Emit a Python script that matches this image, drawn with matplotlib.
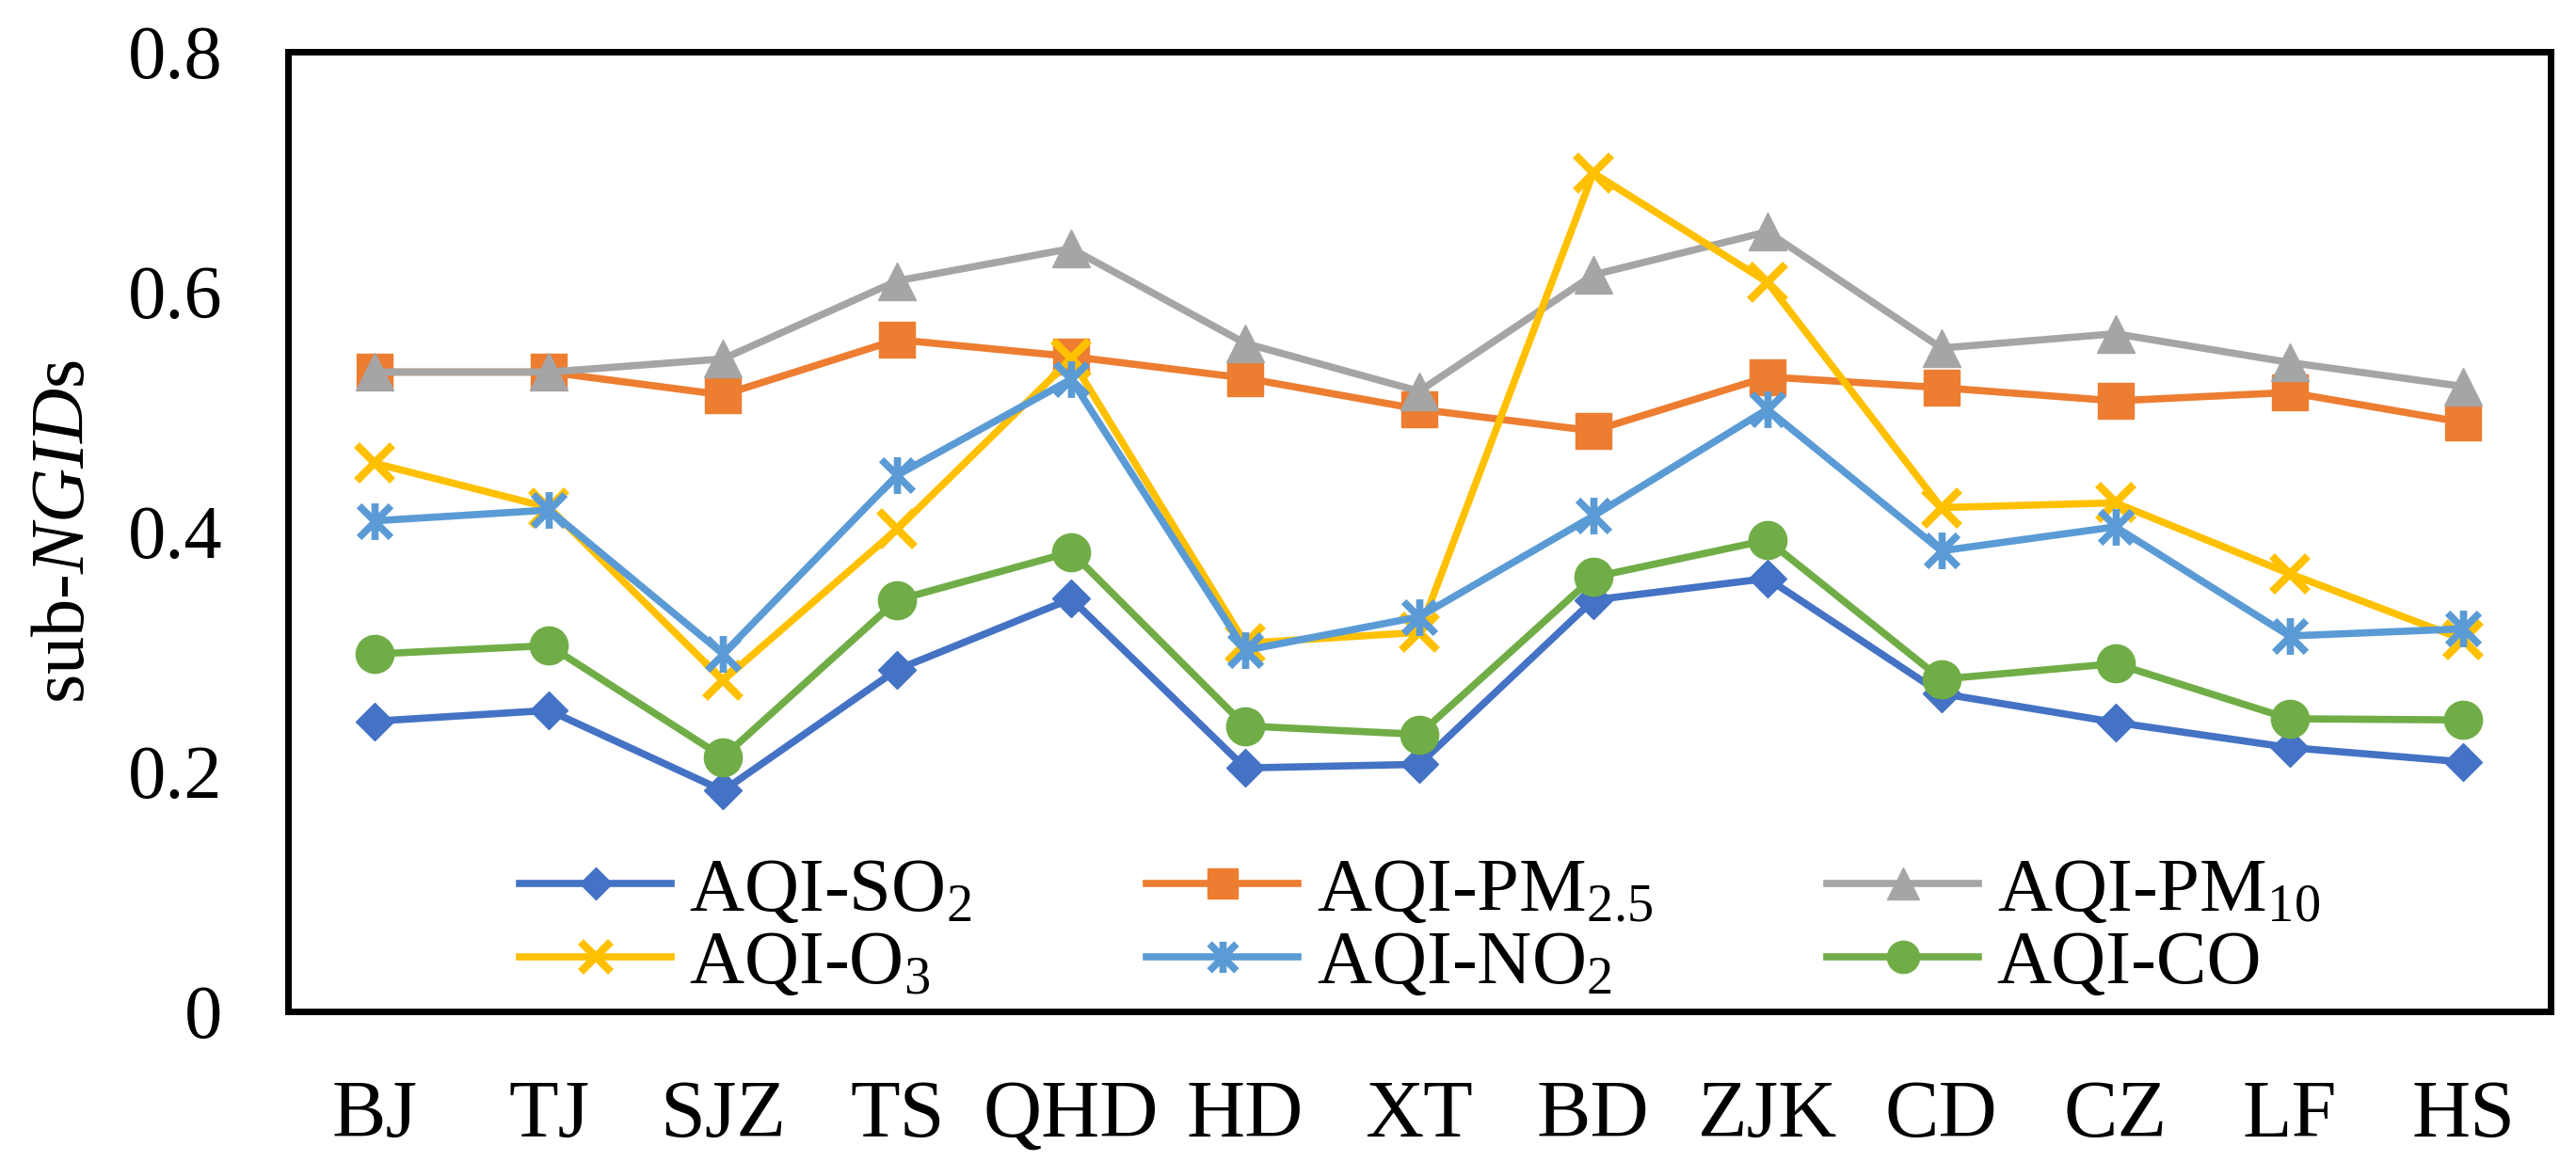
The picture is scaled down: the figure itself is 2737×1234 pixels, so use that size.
import matplotlib
matplotlib.use("Agg")
import matplotlib.pyplot as plt
from matplotlib.path import Path

plt.rcParams['font.family'] = ['Liberation Serif', 'DejaVu Serif']
plt.rcParams['mathtext.fontset'] = 'custom'
plt.rcParams['mathtext.rm'] = 'Liberation Serif'
plt.rcParams['mathtext.it'] = 'Liberation Serif:italic'
plt.rcParams['mathtext.bf'] = 'Liberation Serif:bold'

cities = ["BJ", "TJ", "SJZ", "TS", "QHD", "HD", "XT", "BD", "ZJK", "CD", "CZ", "LF", "HS"]

so2  = [0.242, 0.251, 0.184, 0.285, 0.344, 0.203, 0.206, 0.343, 0.361, 0.265, 0.241, 0.220, 0.208]
pm25 = [0.533, 0.533, 0.514, 0.560, 0.546, 0.528, 0.502, 0.484, 0.529, 0.520, 0.509, 0.516, 0.491]
pm10 = [0.533, 0.533, 0.544, 0.609, 0.636, 0.557, 0.517, 0.614, 0.650, 0.553, 0.565, 0.541, 0.521]
o3   = [0.457, 0.420, 0.276, 0.402, 0.544, 0.307, 0.316, 0.699, 0.608, 0.420, 0.424, 0.365, 0.310]
no2  = [0.409, 0.418, 0.298, 0.447, 0.527, 0.301, 0.329, 0.413, 0.502, 0.384, 0.404, 0.313, 0.319]
co   = [0.298, 0.305, 0.212, 0.343, 0.383, 0.238, 0.231, 0.362, 0.393, 0.277, 0.290, 0.244, 0.243]

labels = ["AQI-SO$_{2}$", "AQI-PM$_{2.5}$", "AQI-PM$_{10}$",
          "AQI-O$_{3}$", "AQI-NO$_{2}$", "AQI-CO"]
colors = ["#4472C4", "#ED7D31", "#A5A5A5", "#FFC000", "#5B9BD5", "#70AD47"]
yticks = [0, 0.2, 0.4, 0.6, 0.8]
ytick_labels = ["0", "0.2", "0.4", "0.6", "0.8"]

star = Path([(-1, -1), (1, 1), (-1, 1), (1, -1), (0, -1.15), (0, 1.15)],
            [Path.MOVETO, Path.LINETO, Path.MOVETO, Path.LINETO, Path.MOVETO, Path.LINETO])

fig = plt.figure(figsize=(27.37, 12.34), dpi=100)
ax = fig.add_axes([0.1118, 0.1288, 0.8783, 0.8266])

x = list(range(len(cities)))
lw = 5.5
h = {}
h['so2'], = ax.plot(x, so2, color=colors[0], lw=lw, marker='D', ms=20,
                    mec=colors[0], mfc=colors[0], mew=1, label=labels[0])
h['pm25'], = ax.plot(x, pm25, color=colors[1], lw=lw, marker='s', ms=27,
                     mec=colors[1], mfc=colors[1], mew=1, label=labels[1])
h['pm10'], = ax.plot(x, pm10, color=colors[2], lw=lw, marker='^', ms=29,
                     mec=colors[2], mfc=colors[2], mew=1, label=labels[2])
h['o3'], = ax.plot(x, o3, color=colors[3], lw=lw, marker='x', ms=27,
                   mec=colors[3], mew=6, label=labels[3])
h['no2'], = ax.plot(x, no2, color=colors[4], lw=lw, marker=star, ms=28,
                    mec=colors[4], mfc='none', mew=5.5, label=labels[4])
h['co'], = ax.plot(x, co, color=colors[5], lw=lw, marker='o', ms=29,
                   mec=colors[5], mfc=colors[5], mew=1, label=labels[5])

ax.set_xlim(-0.5, len(cities) - 0.5)
ax.set_ylim(0, 0.8)
ax.set_xticks(x)
ax.set_xticklabels(cities, fontsize=62)
ax.set_yticks(yticks)
ax.set_yticklabels(ytick_labels, fontsize=58)
ax.tick_params(axis='x', length=0, pad=52)
ax.tick_params(axis='y', length=0, pad=50)
for sp in ax.spines.values():
    sp.set_linewidth(5)
    sp.set_color('black')

ax.set_ylabel("sub-$\\mathit{NGID}$s", fontsize=58)
ax.yaxis.set_label_coords(-0.083, 0.5)

order = ['so2', 'o3', 'pm25', 'no2', 'pm10', 'co']
leg = ax.legend([h[k] for k in order], [h[k].get_label() for k in order],
                ncol=3, loc='lower left', bbox_to_anchor=(0.099, 0.005),
                frameon=False, fontsize=58, handlelength=2.0,
                handletextpad=0.24, columnspacing=2.3, labelspacing=0.05,
                borderaxespad=0, borderpad=0.1)
for lh in leg.get_lines():
    lh.set_markersize(lh.get_markersize() * 0.85)

fig.savefig("out.png", dpi=100, facecolor='white')
